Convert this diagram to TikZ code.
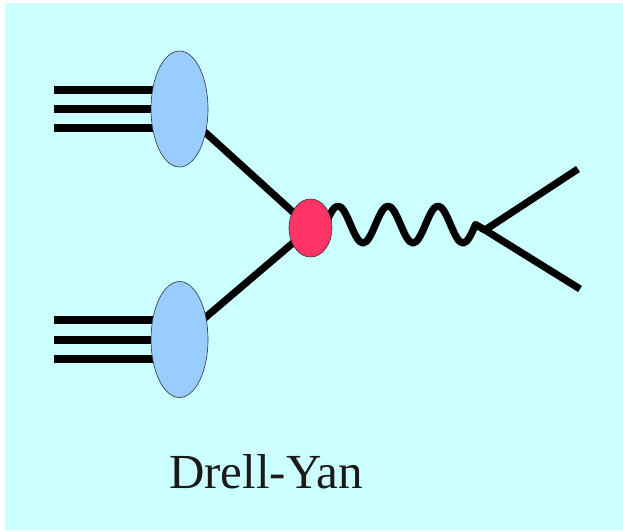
\documentclass[tikz,border=0pt]{standalone}
\usepackage{fontspec}
\setmainfont{Liberation Serif}
\usetikzlibrary{shapes.geometric}
\definecolor{bgcyan}{HTML}{CCFFFF}
\definecolor{blobblue}{HTML}{99CCFF}
\definecolor{blobred}{HTML}{FF3366}
\definecolor{textgray}{HTML}{1A1A1A}
\tikzset{
  thick line/.style={line width=7.2pt, black},
  proton/.style={ellipse, draw=black!80, line width=0.6pt, fill=blobblue,
    minimum width=57pt, minimum height=116pt, inner sep=0pt},
  vertexblob/.style={ellipse, draw=black!80, line width=0.6pt, fill=blobred,
    minimum width=43pt, minimum height=58pt, inner sep=0pt},
}
\begin{document}
\begin{tikzpicture}[x=1pt, y=-1pt]
  % canvas
  \useasboundingbox (0,0) rectangle (623,530);
  \fill[bgcyan] (5,3) rectangle (623,530);

  % positions
  \coordinate (pA) at (179.5,109);
  \coordinate (pB) at (179.5,339.5);
  \coordinate (hv) at (310.5,228);
  \coordinate (qv) at (485,230);
  \coordinate (l1) at (578,169);
  \coordinate (l2) at (580,289);
  \foreach \y [count=\i] in {90,109,128} {\coordinate (a\i) at (54,\y);}
  \foreach \y [count=\i] in {320,340,359} {\coordinate (b\i) at (54,\y);}

  % incoming quark lines
  \foreach \i in {1,2,3} {
    \draw[thick line] (a\i) -- (a\i -| pA);
    \draw[thick line] (b\i) -- (b\i -| pB);
  }
  \draw[thick line] (pA) -- (hv);
  \draw[thick line] (pB) -- (hv);

  % photon
  \draw[thick line, line join=round]
    (325.5,224.5) sin (338,206) cos (350.5,224.5) sin (363,243)
    cos (375.5,224.5) sin (388,206) cos (400.5,224.5) sin (413,243)
    cos (425.5,224.5) sin (438,206) cos (450.5,224.5) sin (463,243)
    cos (475.5,224.5) -- (qv);

  % outgoing lepton pair
  \draw[thick line] (l1) -- (qv) -- (l2);

  % blobs
  \node[proton] (protonA) at (pA) {};
  \node[proton] (protonB) at (pB) {};
  \node[vertexblob] (hard) at (hv) {};

  % label
  \node[anchor=base, text=textgray, font=\fontsize{49}{57}\selectfont, inner sep=0pt]
    (label) at (266,488) {Drell-Yan};
\end{tikzpicture}
\end{document}
